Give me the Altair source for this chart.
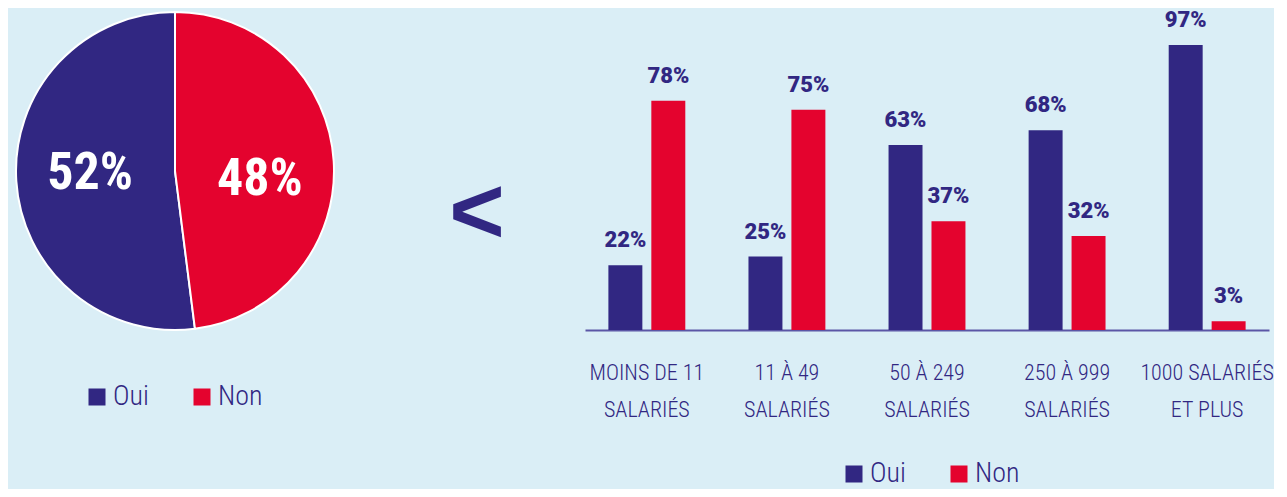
import altair as alt
import pandas as pd

# ---- data ----
pie_labels = ["Oui", "Non"]
pie_values = [52, 48]
pie_order = [1, 0]

categories = ["MOINS DE 11|SALARIÉS", "11 À 49|SALARIÉS", "50 À 249|SALARIÉS",
              "250 À 999|SALARIÉS", "1000 SALARIÉS|ET PLUS"]
series = ["Oui", "Non"]
oui_values = [22, 25, 63, 68, 97]
non_values = [78, 75, 37, 32, 3]

NAVY = "#312782"
RED = "#e4032e"
BG = "#daeef6"
COND = "Roboto Condensed, Liberation Sans Narrow, DejaVu Sans Condensed, sans-serif"
HEAVY = "Roboto, Liberation Sans, sans-serif"

# ---- pie ----
pie_df = pd.DataFrame({"réponse": pie_labels, "valeur": pie_values, "ordre": pie_order})
pie_df["lab_oui"] = [f"{v}%" if r == "Oui" else "" for r, v in zip(pie_labels, pie_values)]
pie_df["lab_non"] = [f"{v}%" if r == "Non" else "" for r, v in zip(pie_labels, pie_values)]

legend_kw = dict(
    title=None, orient="none", direction="horizontal", symbolType="square",
    symbolSize=289, symbolStrokeWidth=0, labelFont=COND, labelFontSize=28,
    labelFontWeight=300, labelColor=NAVY, labelOffset=2, columnPadding=39, padding=0,
)

pie_base = alt.Chart(pie_df).encode(
    theta=alt.Theta("valeur:Q", stack=True),
    order=alt.Order("ordre:Q"),
)
arcs = pie_base.mark_arc(radius=159, stroke="white", strokeWidth=2).encode(
    color=alt.Color(
        "réponse:N",
        scale=alt.Scale(domain=series, range=[NAVY, RED]),
        legend=alt.Legend(legendX=75, legendY=374, **legend_kw),
    )
)
txt_kw = dict(radius=85, font=COND, fontWeight="bold", fontSize=52, color="white")
pie_text_oui = pie_base.mark_text(dy=-3, **txt_kw).encode(text="lab_oui:N")
pie_text_non = pie_base.mark_text(dy=13, **txt_kw).encode(text="lab_non:N")
pie = alt.layer(arcs, pie_text_oui, pie_text_non).properties(width=334, height=324)

# ---- middle "<" ----
mid = alt.Chart(pd.DataFrame({"s": ["<"]})).mark_text(
    font="Liberation Sans, sans-serif", fontWeight="bold", fontSize=95,
    color=NAVY, baseline="middle", align="center"
).encode(text="s:N", x=alt.value(134), y=alt.value(205)).properties(width=240, height=324)

# ---- bars ----
bar_df = pd.DataFrame({
    "cat": categories * 2,
    "série": ["Oui"] * len(categories) + ["Non"] * len(categories),
    "valeur": oui_values + non_values,
})
bar_df["label"] = bar_df["valeur"].astype(str) + "%"

xenc = alt.X(
    "cat:N", sort=categories,
    scale=alt.Scale(paddingInner=0.451, paddingOuter=0.167),
    axis=alt.Axis(
        title=None, labelAngle=0, labelExpr="split(datum.value, '|')",
        labelFont=COND, labelFontSize=22, labelFontWeight=300, labelColor=NAVY,
        labelLineHeight=37, labelBaseline="top", labelPadding=32, ticks=False,
        tickSize=0, domainColor="#5b56a6", domainWidth=2, grid=False, labelLimit=300,
    ),
)
xoff = alt.XOffset("série:N", sort=series, scale=alt.Scale(paddingInner=0.209, paddingOuter=0))
yenc = alt.Y("valeur:Q", scale=alt.Scale(domain=[0, 109.25]), axis=None)

bars = alt.Chart(bar_df).mark_bar().encode(
    x=xenc, xOffset=xoff, y=yenc,
    color=alt.Color(
        "série:N",
        scale=alt.Scale(domain=series, range=[NAVY, RED]),
        legend=alt.Legend(legendX=255, legendY=451, **legend_kw),
    ),
)
bar_text = alt.Chart(bar_df).mark_text(
    baseline="bottom", dy=-13, font=HEAVY, fontWeight=900, fontSize=22, color=NAVY
).encode(x=xenc, xOffset=xoff, y=yenc, text="label:N")
bar_chart = alt.layer(bars, bar_text).properties(width=684, height=321)

chart = alt.hconcat(pie, mid, bar_chart, spacing=0).resolve_scale(
    color="independent"
).resolve_legend(color="independent").properties(
    padding={"top": 0, "left": 0, "right": 0, "bottom": 0},
    background=BG,
).configure_view(stroke="transparent")

chart.save("out.html", embed_options={"renderer": "svg", "actions": False})
